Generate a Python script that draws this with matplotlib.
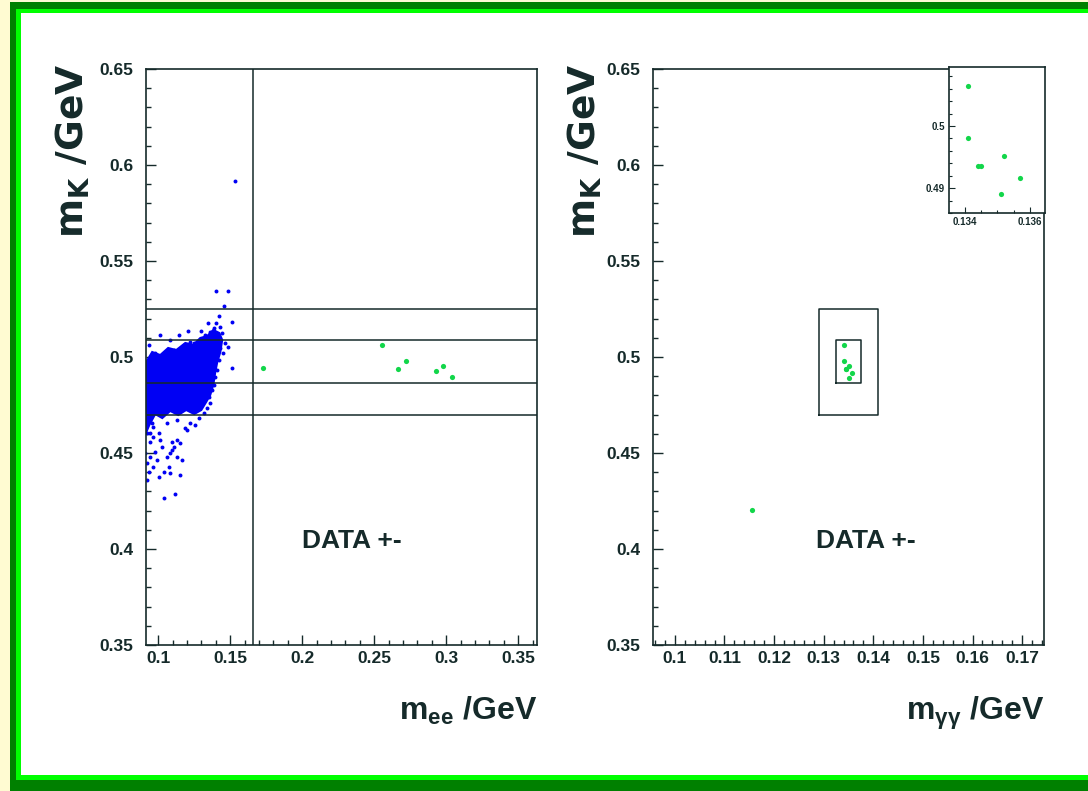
import matplotlib.pyplot as plt
from matplotlib.patches import Rectangle
from matplotlib.ticker import MultipleLocator, FormatStrFormatter

# green candidates (left: m_ee vs m_K, right: m_gg vs m_K)
ee_green_x = [0.1729, 0.2553, 0.2665, 0.2718, 0.2930, 0.2980, 0.3040]
ee_green_y = [0.4943, 0.5063, 0.4938, 0.4979, 0.4927, 0.4953, 0.4896]

gg_green_x = [0.1155, 0.1341, 0.1341, 0.1344, 0.1345, 0.1352, 0.1357, 0.1351]
gg_green_y = [0.4203, 0.5065, 0.4980, 0.4935, 0.4935, 0.4952, 0.4916, 0.4890]

# dense blue core (outline)
core_x = [0.0900, 0.0917, 0.0958, 0.1014, 0.1069, 0.1125, 0.1188, 0.1243, 0.1292,
          0.1340, 0.1382, 0.1424, 0.1444, 0.1431, 0.1410, 0.1396, 0.1382, 0.1361,
          0.1333, 0.1299, 0.1250, 0.1194, 0.1139, 0.1083, 0.1028, 0.0979, 0.0938,
          0.0917, 0.0900]
core_y = [0.4974, 0.4974, 0.5026, 0.5010, 0.5047, 0.5036, 0.5073, 0.5063, 0.5099,
          0.5109, 0.5141, 0.5125, 0.5089, 0.5026, 0.4974, 0.4922, 0.4854, 0.4802,
          0.4766, 0.4724, 0.4703, 0.4724, 0.4698, 0.4719, 0.4682, 0.4703, 0.4646,
          0.4609, 0.4609]

# scattered blue points around the core
blue_x = [0.1535, 0.1403, 0.1484, 0.1460, 0.1419, 0.1512, 0.1345, 0.1403, 0.1296,
          0.1361, 0.1204, 0.1014, 0.1141, 0.1484, 0.1512, 0.0933, 0.1083, 0.1222,
          0.0944, 0.0979, 0.0921, 0.0933, 0.1002, 0.1037, 0.1072, 0.1148, 0.1037,
          0.1118, 0.1106, 0.1153, 0.1095, 0.1199, 0.1257, 0.1130, 0.1014, 0.0967,
          0.1060, 0.1315, 0.1349, 0.1373, 0.1396, 0.1431, 0.1396, 0.1292, 0.0944,
          0.0991, 0.1083, 0.1130,
          0.0933, 0.0956, 0.0921, 0.0967, 0.1002, 0.0944, 0.1026, 0.1060, 0.1095,
          0.1130, 0.1188, 0.1222, 0.1280, 0.1338, 0.1361, 0.1163, 0.1083, 0.0921,
          0.0967, 0.0910,
          0.0944, 0.0979, 0.1106, 0.1176, 0.1245, 0.1326, 0.1384, 0.1431, 0.1442,
          0.1465, 0.1453, 0.1419, 0.1408, 0.1396, 0.1384]
blue_y = [0.5917, 0.5345, 0.5345, 0.5266, 0.5214, 0.5184, 0.5179, 0.5175, 0.5137,
          0.5132, 0.5135, 0.5115, 0.5115, 0.5050, 0.4941, 0.5063, 0.5089, 0.5080,
          0.4603, 0.4507, 0.4447, 0.4403, 0.4377, 0.4403, 0.4429, 0.4385, 0.4264,
          0.4285, 0.4533, 0.4550, 0.4559, 0.4620, 0.4646, 0.4672, 0.4568, 0.4637,
          0.4655, 0.4707, 0.4793, 0.4828, 0.5002, 0.5045, 0.5115, 0.5089, 0.4481,
          0.4464, 0.4498, 0.4481,
          0.4689, 0.4655, 0.4603, 0.4585, 0.4603, 0.4559, 0.4533, 0.4481, 0.4516,
          0.4568, 0.4629, 0.4655, 0.4681, 0.4733, 0.4759, 0.4464, 0.4394, 0.4359,
          0.4429, 0.4498,
          0.4984, 0.5019, 0.5036, 0.5063, 0.5071, 0.5115, 0.5150, 0.5158, 0.5123,
          0.5071, 0.5019, 0.4984, 0.4932, 0.4898, 0.4854]

# selection cuts
mk_outer = [0.470, 0.525]
mk_inner = [0.4865, 0.509]
mee_cut = 0.166
mgg_outer = [0.129, 0.141]
mgg_inner = [0.1325, 0.1375]

W, H = 1088, 791
ink = '#152a2a'
green = '#12d64a'
blue = '#0000f4'
sans = ['Liberation Sans', 'DejaVu Sans']


def frame_rect(fig, x0, y0, x1, y1, color):
    fig.patches.append(Rectangle((x0 / W, 1 - y1 / H), (x1 - x0) / W, (y1 - y0) / H,
                                 transform=fig.transFigure, color=color, lw=0, zorder=-10))


def style_axis(ax, xmaj, xmin, ylim, xlim, labsize=12.5):
    ax.set_xlim(*xlim)
    ax.set_ylim(*ylim)
    ax.xaxis.set_major_locator(MultipleLocator(xmaj))
    ax.xaxis.set_minor_locator(MultipleLocator(xmin))
    ax.yaxis.set_major_locator(MultipleLocator(0.05))
    ax.yaxis.set_minor_locator(MultipleLocator(0.01))
    ax.xaxis.set_major_formatter(FormatStrFormatter('%g'))
    ax.yaxis.set_major_formatter(FormatStrFormatter('%g'))
    ax.tick_params(which='both', direction='in', color=ink, width=1.0,
                   top=False, right=False)
    ax.tick_params(which='major', length=7)
    ax.tick_params(which='minor', length=3.5)
    ax.tick_params(axis='x', pad=4)
    ax.tick_params(axis='y', pad=9)
    for lab in ax.get_xticklabels() + ax.get_yticklabels():
        lab.set_fontfamily(sans)
        lab.set_fontweight('bold')
        lab.set_fontsize(labsize)
        lab.set_color(ink)
    for sp in ax.spines.values():
        sp.set_color(ink)
        sp.set_linewidth(1.2)


def main():
    fig = plt.figure(figsize=(W / 100, H / 100), dpi=100, facecolor='#fffbd2')
    frame_rect(fig, 10, 2, 1100, 800, '#008000')
    frame_rect(fig, 16, 9, 1100, 780, '#00ff00')
    frame_rect(fig, 21, 13, 1100, 775, 'white')

    # left panel
    ax1 = fig.add_axes([146 / W, 1 - 645 / H, 391 / W, 576 / H])
    ax1.set_facecolor('white')
    ax1.fill(core_x, core_y, color=blue, lw=1.5, zorder=2)
    ax1.scatter(blue_x, blue_y, s=8, color=blue, lw=0, zorder=2)
    ax1.scatter(ee_green_x, ee_green_y, s=14, color=green, lw=0, zorder=3)
    for yv in mk_outer + mk_inner:
        ax1.axhline(yv, color=ink, lw=1.1, zorder=4)
    ax1.axvline(mee_cut, color=ink, lw=1.1, zorder=4)
    style_axis(ax1, 0.05, 0.01, (0.35, 0.65), (0.0915, 0.363))
    ax1.text(0.2347, 0.4042, 'DATA +-', fontsize=19, fontweight='bold', family=sans,
             color=ink, ha='center', va='center')
    ax1.text(1.0, -0.13, r'm$_{\mathregular{ee}}$ /GeV', transform=ax1.transAxes,
             ha='right', va='baseline', fontsize=23, fontweight='bold', family=sans,
             color=ink)

    # right panel
    ax2 = fig.add_axes([653 / W, 1 - 645 / H, 391 / W, 576 / H])
    ax2.set_facecolor('white')
    ax2.scatter(gg_green_x, gg_green_y, s=14, color=green, lw=0, zorder=3)
    for xr, yr in [(mgg_outer, mk_outer), (mgg_inner, mk_inner)]:
        ax2.plot([xr[0], xr[1], xr[1], xr[0], xr[0]],
                 [yr[0], yr[0], yr[1], yr[1], yr[0]], color=ink, lw=1.1, zorder=4)
    style_axis(ax2, 0.01, 0.002, (0.35, 0.65), (0.0956, 0.1744))
    ax2.text(0.1385, 0.4042, 'DATA +-', fontsize=19, fontweight='bold', family=sans,
             color=ink, ha='center', va='center')
    ax2.text(1.0, -0.13, r'm$_{\mathregular{γγ}}$ /GeV', transform=ax2.transAxes,
             ha='right', va='baseline', fontsize=23, fontweight='bold', family=sans,
             color=ink)

    # y titles
    for xpix in (73, 585):
        fig.text(xpix / W, 1 - 63 / H, r'm$_{\mathregular{K}}$ /GeV', rotation=90,
                 ha='center', va='top', fontsize=27, fontweight='bold',
                 family='DejaVu Sans', color=ink)

    # zoomed inset
    ax3 = fig.add_axes([949 / W, 1 - 213 / H, 96 / W, 146 / H])
    ax3.scatter(gg_green_x, gg_green_y, s=14, color=green, lw=0, zorder=3)
    ax3.set_xlim(0.13351, 0.13646)
    ax3.set_ylim(0.486, 0.5095)
    ax3.xaxis.set_major_locator(MultipleLocator(0.002))
    ax3.xaxis.set_minor_locator(MultipleLocator(0.0005))
    ax3.yaxis.set_major_locator(MultipleLocator(0.01))
    ax3.yaxis.set_minor_locator(MultipleLocator(0.002))
    ax3.xaxis.set_major_formatter(FormatStrFormatter('%g'))
    ax3.yaxis.set_major_formatter(FormatStrFormatter('%g'))
    ax3.tick_params(which='both', direction='in', color=ink, width=0.8,
                    top=False, right=False, labelsize=7, labelcolor=ink, pad=3)
    ax3.tick_params(which='major', length=4)
    ax3.tick_params(which='minor', length=2)
    for sp in ax3.spines.values():
        sp.set_color(ink)
        sp.set_linewidth(1.2)
    for lab in ax3.get_xticklabels() + ax3.get_yticklabels():
        lab.set_fontfamily(sans)
        lab.set_fontweight('bold')

    fig.savefig('out.png', dpi=100, facecolor=fig.get_facecolor())


if __name__ == "__main__":
    main()
